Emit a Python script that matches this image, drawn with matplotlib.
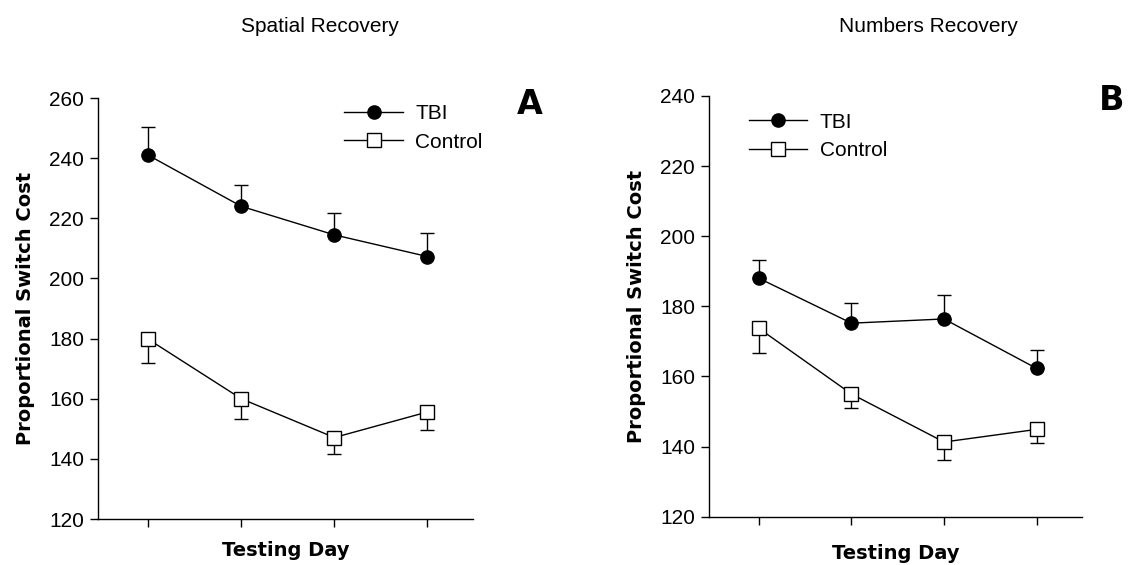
import matplotlib
matplotlib.use('Agg')
import matplotlib.pyplot as plt
from matplotlib.lines import Line2D

plt.rcParams['font.family'] = ['Liberation Sans', 'DejaVu Sans']

days = [1, 2, 3, 4]

# Panel A - spatial recovery
spatial_tbi = [241, 224, 214.5, 207.3]
spatial_tbi_err = [9.5, 7, 7.2, 7.7]
spatial_ctrl = [179.8, 160, 147.1, 155.6]
spatial_ctrl_err = [8, 6.7, 5.6, 6]

# Panel B - numbers recovery
numbers_tbi = [188, 175.2, 176.4, 162.3]
numbers_tbi_err = [5.2, 5.7, 6.8, 5.3]
numbers_ctrl = [173.7, 155, 141.3, 144.9]
numbers_ctrl_err = [7.1, 4.1, 5.1, 4]

y_ticks_a = [120, 140, 160, 180, 200, 220, 240, 260]
y_ticks_b = [120, 140, 160, 180, 200, 220, 240]

bold_font = {'family': 'DejaVu Sans', 'weight': 'bold'}


def draw_panel(ax, tbi, tbi_err, ctrl, ctrl_err, yticks, xpad):
    zeros = [0] * len(days)
    ax.errorbar(days, tbi, yerr=[zeros, tbi_err], color='black', lw=1,
                marker='o', ms=9.5, mfc='black', mec='black',
                capsize=5, capthick=1, elinewidth=1, zorder=3)
    ax.errorbar(days, ctrl, yerr=[ctrl_err, zeros], color='black', lw=1,
                marker='s', ms=9.5, mfc='white', mec='black', mew=1,
                capsize=5, capthick=1, elinewidth=1, zorder=3)
    ax.set_xlim(0.46, 4.49)
    ax.set_ylim(yticks[0], yticks[-1])
    ax.set_xticks(days)
    ax.set_xticklabels([])
    ax.set_yticks(yticks)
    ax.tick_params(axis='both', direction='out', length=6, width=1, labelsize=15)
    ax.tick_params(axis='y', pad=4)
    for s in ['top', 'right']:
        ax.spines[s].set_visible(False)
    for s in ['left', 'bottom']:
        ax.spines[s].set_linewidth(1)
    ax.set_ylabel('Proportional Switch Cost', fontsize=14, fontdict=bold_font, labelpad=10)
    ax.set_xlabel('Testing Day', fontsize=14, fontdict=bold_font, labelpad=xpad)


def add_legend(ax, anchor):
    handles = [
        Line2D([], [], color='black', lw=1, marker='o', ms=9.5, mfc='black', mec='black'),
        Line2D([], [], color='black', lw=1, marker='s', ms=9.5, mfc='white', mec='black'),
    ]
    ax.legend(handles, ['TBI', 'Control'], loc='upper left', bbox_to_anchor=anchor,
              frameon=False, fontsize=15, handlelength=2.8, handletextpad=0.6,
              labelspacing=0.45, borderaxespad=0)


fig = plt.figure(figsize=(11.42, 5.65), dpi=100)

ax1 = fig.add_axes([0.0858, 0.0814, 0.3284, 0.745])
draw_panel(ax1, spatial_tbi, spatial_tbi_err, spatial_ctrl, spatial_ctrl_err, y_ticks_a, 6)
add_legend(ax1, (0.635, 1.005))
fig.text(320 / 1142, 1 - 27 / 565, 'Spatial Recovery', ha='center', va='center', fontsize=15)
fig.text(530 / 1142, 1 - 104 / 565, 'A', ha='center', va='center', fontsize=24, fontdict=bold_font)

ax2 = fig.add_axes([0.6208, 0.0855, 0.3266, 0.7446])
draw_panel(ax2, numbers_tbi, numbers_tbi_err, numbers_ctrl, numbers_ctrl_err, y_ticks_b, 10)
add_legend(ax2, (0.085, 0.98))
fig.text(928 / 1142, 1 - 27 / 565, 'Numbers Recovery', ha='center', va='center', fontsize=15)
fig.text(1112 / 1142, 1 - 101 / 565, 'B', ha='center', va='center', fontsize=24, fontdict=bold_font)

fig.savefig('out.png', dpi=100)
